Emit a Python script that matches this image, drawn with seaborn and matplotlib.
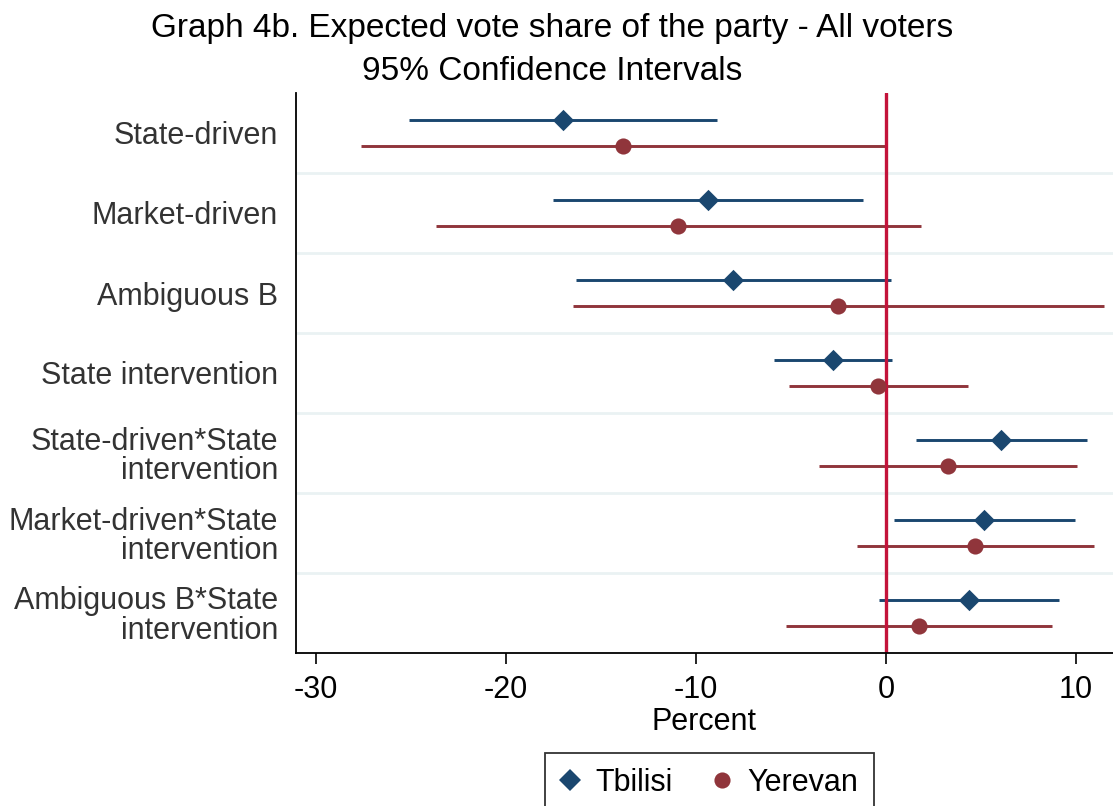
import numpy as np
import pandas as pd
import matplotlib
matplotlib.use("Agg")
import matplotlib.pyplot as plt
import seaborn as sns
from matplotlib.lines import Line2D

# Model terms (top to bottom)
terms = [
    "State-driven",
    "Market-driven",
    "Ambiguous B",
    "State intervention",
    "State-driven*State\nintervention",
    "Market-driven*State\nintervention",
    "Ambiguous B*State\nintervention",
]
cities = ["Tbilisi", "Yerevan"]

# Point estimates and 95% confidence bounds (percent)
tbilisi_est = [-17.02, -9.37, -8.04, -2.81, 6.05, 5.16, 4.38]
tbilisi_lo = [-25.11, -17.51, -16.32, -5.91, 1.58, 0.42, -0.37]
tbilisi_hi = [-8.91, -1.19, 0.25, 0.32, 10.56, 9.95, 9.12]

yerevan_est = [-13.83, -10.93, -2.51, -0.41, 3.28, 4.70, 1.75]
yerevan_lo = [-27.63, -23.68, -16.47, -5.09, -3.53, -1.51, -5.25]
yerevan_hi = [-0.03, 1.83, 11.46, 4.30, 10.05, 10.95, 8.75]

x_ticks = [-30, -20, -10, 0, 10]

# Styling
colors = {"Tbilisi": "#1A476F", "Yerevan": "#90353B"}
markers = {"Tbilisi": "D", "Yerevan": "o"}
marker_area = {"Tbilisi": 118, "Yerevan": 135}
offsets = {"Tbilisi": -0.1625, "Yerevan": 0.1625}
zero_color = "#C3133A"
grid_color = "#EAF2F3"

# Long-form table
records = []
for city, est, lo, hi in [
    ("Tbilisi", tbilisi_est, tbilisi_lo, tbilisi_hi),
    ("Yerevan", yerevan_est, yerevan_lo, yerevan_hi),
]:
    for i, term in enumerate(terms):
        records.append(
            {"term": term, "city": city, "est": est[i], "lo": lo[i], "hi": hi[i],
             "pos": i + offsets[city]}
        )
df = pd.DataFrame(records)

sns.set_theme(style="white")
plt.rcParams["font.family"] = ["Liberation Sans", "DejaVu Sans"]

W, H = 1113, 806
fig = plt.figure(figsize=(W / 100, H / 100), dpi=100)
ax = fig.add_axes([296 / W, 1 - 653 / H, 1 - 296 / W, (653 - 93) / H])

# Row separators
ax.set_yticks(np.arange(0.5, len(terms) - 1), minor=True)
ax.grid(axis="y", which="minor", color=grid_color, lw=2.0, zorder=0)
ax.grid(axis="y", which="major", visible=False)
ax.grid(axis="x", visible=False)

# Confidence intervals
for city in cities:
    sub = df[df.city == city]
    ax.hlines(sub.pos, sub.lo, sub.hi, colors=colors[city], lw=2.1, zorder=2)

# Reference line at zero
ax.axvline(0, color=zero_color, lw=2.4, zorder=2.5)

# Point estimates
for city in cities:
    sns.scatterplot(
        data=df[df.city == city], x="est", y="pos",
        color=colors[city], marker=markers[city], s=marker_area[city],
        linewidth=0, legend=False, ax=ax, zorder=3,
    )

ax.set_xlim(-31.05, 11.95)
ax.set_ylim(len(terms) - 0.5, -0.5)
ax.set_xticks(x_ticks)
ax.set_xticklabels([str(t) for t in x_ticks])
ax.set_yticks(range(len(terms)))
ax.set_yticklabels(terms, linespacing=0.98)

ax.tick_params(axis="x", which="major", direction="out", length=8, width=1.2,
               color="black", labelsize=22, labelcolor="black", pad=7.5, bottom=True)
ax.tick_params(axis="y", which="both", length=0, labelsize=22,
               labelcolor="#333333", pad=13)
for lbl in ax.get_yticklabels():
    lbl.set_horizontalalignment("right")

ax.set_xlabel("Percent", fontsize=22, color="black", labelpad=1.5)
ax.set_ylabel("")

for side in ["top", "right"]:
    ax.spines[side].set_visible(False)
for side in ["left", "bottom"]:
    ax.spines[side].set_color("black")
    ax.spines[side].set_linewidth(1.3)

# Title
fig.text(552 / W, 1 - 37 / H, "Graph 4b. Expected vote share of the party - All voters",
         ha="center", va="baseline", fontsize=24, color="black")
fig.text(552 / W, 1 - 80 / H, "95% Confidence Intervals",
         ha="center", va="baseline", fontsize=24, color="black")

# Legend
handles = [
    Line2D([], [], linestyle="none", marker=markers[c], color=colors[c],
           markersize=np.sqrt(marker_area[c]), markeredgewidth=0)
    for c in cities
]
leg = fig.legend(handles, cities, loc="center", bbox_to_anchor=(709.5 / W, 1 - 783 / H),
                 ncol=2, frameon=True, fancybox=False, edgecolor="black",
                 fontsize=22, handlelength=0.65, handletextpad=0.5,
                 columnspacing=1.3, borderpad=0.5)
leg.get_frame().set_linewidth(1.3)
for t in leg.get_texts():
    t.set_color("black")

fig.savefig("out.png", dpi=100)
